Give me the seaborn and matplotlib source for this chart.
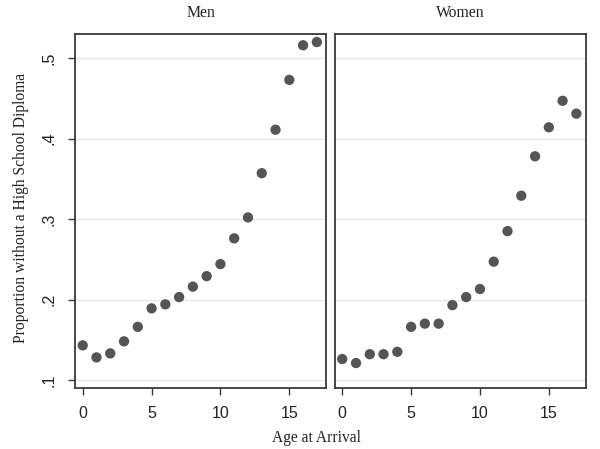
import matplotlib
matplotlib.use("Agg")
import matplotlib.pyplot as plt
import pandas as pd
import seaborn as sns

# age at arrival, 0..17
ages = list(range(18))
men = [0.143, 0.128, 0.133, 0.148, 0.166, 0.189, 0.194, 0.203, 0.216,
       0.229, 0.244, 0.276, 0.302, 0.357, 0.411, 0.473, 0.516, 0.520]
women = [0.126, 0.121, 0.132, 0.132, 0.135, 0.166, 0.170, 0.170, 0.193,
         0.203, 0.213, 0.247, 0.285, 0.329, 0.378, 0.414, 0.447, 0.431]
panels = ["Men", "Women"]
yticks = [0.1, 0.2, 0.3, 0.4, 0.5]
ytick_labels = [".1", ".2", ".3", ".4", ".5"]
xticks = [0, 5, 10, 15]

df = pd.DataFrame({
    "age": ages * 2,
    "prop": men + women,
    "sex": ["Men"] * len(ages) + ["Women"] * len(ages),
})

sns.set_style("white")
plt.rcParams["font.family"] = ["Liberation Serif", "DejaVu Serif"]
tick_font = ["Liberation Sans Narrow", "Liberation Sans", "DejaVu Sans"]

fig, axes = plt.subplots(1, 2, figsize=(6, 4.49), dpi=100, sharey=True)
fig.subplots_adjust(left=75 / 600, right=586 / 600, top=1 - 34 / 449,
                    bottom=1 - 388 / 449, wspace=0.032)

edge = "#3a3a3a"
txt = "#222222"
for ax, name in zip(axes, panels):
    sub = df[df["sex"] == name]
    for yv in yticks:
        ax.axhline(yv, color="#e6e6e6", lw=1.0, zorder=0)
    sns.scatterplot(data=sub, x="age", y="prop", ax=ax, color="#555555",
                    s=55, edgecolor="none", zorder=3, legend=False)
    ax.set_xlim(-0.56, 17.7)
    ax.set_ylim(0.090, 0.530)
    ax.set_xticks(xticks)
    ax.set_xticklabels([str(t) for t in xticks], family=tick_font)
    ax.set_title(name, fontsize=11.3, color=txt, pad=12)
    ax.set_xlabel("")
    ax.set_ylabel("")
    for sp in ax.spines.values():
        sp.set_visible(True)
        sp.set_color(edge)
        sp.set_linewidth(1.3)
    ax.tick_params(axis="x", direction="out", length=5, width=1, bottom=True,
                   color=edge, labelsize=11.5, labelcolor=txt, pad=8)

axes[0].set_yticks(yticks)
axes[0].set_yticklabels(ytick_labels, rotation=90, va="center",
                        family=tick_font)
axes[0].tick_params(axis="y", direction="out", length=5, width=1,
                    color=edge, labelsize=11.5, labelcolor=txt, pad=8,
                    left=True)
axes[1].tick_params(axis="y", left=False, labelleft=False)

fig.text(316 / 600, 1 - 438 / 449, "Age at Arrival",
         ha="center", va="center", fontsize=11.2, color=txt)
fig.text(21 / 600, 1 - 208 / 449, "Proportion without a High School Diploma",
         ha="center", va="center", rotation=90, fontsize=11.2, color=txt)

fig.savefig("out.png", dpi=100)
